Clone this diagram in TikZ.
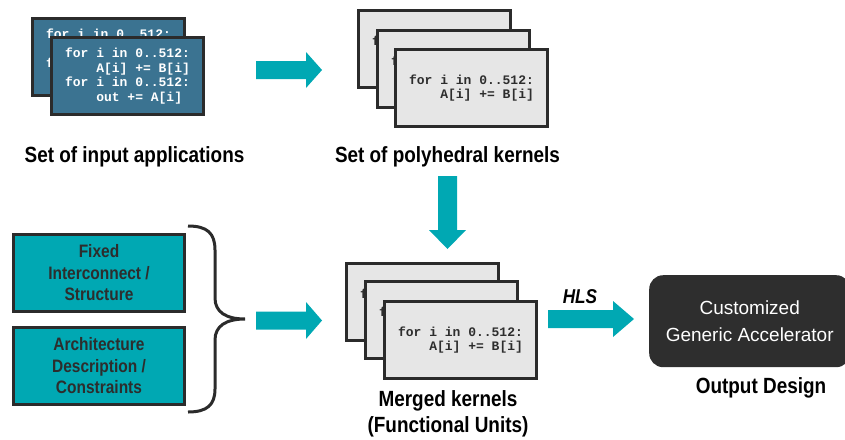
\documentclass[tikz,border=0pt]{standalone}
\usepackage{fontspec}
\setmainfont{Liberation Sans}
\newfontfamily\lblfont[FakeStretch=0.86]{Liberation Sans}
\newfontfamily\codefont{Liberation Mono}
\usetikzlibrary{calc}
\definecolor{edge}{HTML}{2B2B2B}
\definecolor{bluefill}{HTML}{3B7391}
\definecolor{grayfill}{HTML}{E6E6E6}
\definecolor{tealc}{HTML}{00A8B3}
\definecolor{darkboxc}{HTML}{2E2E2E}
\definecolor{txtgray}{HTML}{2D2D2D}
\newcommand\bluecode{for i in 0..512:\\\hphantom{for }A[i] += B[i]\\for i in 0..512:\\\hphantom{for }out += A[i]}
\newcommand\graycode{for i in 0..512:\\\hphantom{for }A[i] += B[i]}
\newcommand\blockarrow[5]{%
  \fill[tealc] let \p1=(#1), \p2=(#2), \n1={atan2(\y2-\y1,\x2-\x1)}, \n2={veclen(\x2-\x1,\y2-\y1)} in
   [shift={(\p1)}, rotate=\n1] (0,#5) -- ({\n2-#3},#5) -- ({\n2-#3},#4) -- (\n2,0) -- ({\n2-#3},-#4) -- ({\n2-#3},-#5) -- (0,-#5) -- cycle;}
\begin{document}
\begin{tikzpicture}[x=1pt,y=-1pt,
  codebox/.style={draw=edge, line width=3pt, minimum width=152pt, minimum height=77pt, inner sep=0pt, anchor=north west, align=left, font=\codefont\bfseries\fontsize{13}{14.5}\selectfont},
  bluebox/.style={codebox, fill=bluefill, text=white},
  graybox/.style={codebox, fill=grayfill, text=txtgray},
  tealbox/.style={draw=edge, line width=3pt, fill=tealc, minimum width=171pt, minimum height=77pt, inner sep=0pt, anchor=north west, align=center, text=txtgray, font=\lblfont\bfseries\fontsize{18}{21.5}\selectfont},
  lbl/.style={inner sep=0pt, font=\lblfont\bfseries\fontsize{22}{26}\selectfont},
  accbox/.style={fill=darkboxc, rounded corners=14pt, minimum width=201pt, minimum height=92pt, anchor=north west, inner sep=0pt, align=center, text=white, font=\fontsize{19}{26.6}\selectfont}
]
\useasboundingbox (0,0) rectangle (845,439);

% input applications
\node[bluebox] (ia1) at (31,17) {\bluecode};
\node[bluebox] (ia2) at (50,36) {\bluecode};
\node[lbl, anchor=base] (lia) at (134.5,162) {Set of input applications};

% polyhedral kernels
\node[graybox] (pk1) at (357,9) {\graycode};
\node[graybox] (pk2) at (376,29) {\graycode};
\node[graybox] (pk3) at (394,48) {\graycode};
\node[lbl, anchor=base] (lpk) at (447.5,162) {Set of polyhedral kernels};

% merged kernels
\node[graybox] (mk1) at (345,262) {\graycode};
\node[graybox] (mk2) at (364,280) {\graycode};
\node[graybox] (mk3) at (383,300) {\graycode};
\node[lbl, align=center, anchor=center] (lmk) at (448,414) {Merged kernels\\(Functional Units)};

% constraints
\node[tealbox] (fx) at (12,233) {Fixed\\Interconnect /\\Structure};
\node[tealbox] (ad) at (12,326) {Architecture\\Description /\\Constraints};
\coordinate (brtip) at (245,319);
\draw[edge, line width=3pt] (188,226) .. controls (207,226) and (215,233) .. (215,250) -- (215,298)
  .. controls (215,312) and (226,319) .. (brtip)
  .. controls (226,319) and (215,326) .. (215,340) -- (215,389)
  .. controls (215,405) and (207,412) .. (188,412);

% output
\node[accbox] (acc) at (649,275) {Customized\\Generic Accelerator};
\node[lbl, anchor=base] (lout) at (761,393) {Output Design};
\node[inner sep=0pt, anchor=base, font=\lblfont\bfseries\itshape\fontsize{20}{24}\selectfont] (hls) at (580,303.5) {HLS};

% block arrows
\coordinate (a1t) at (256,70);    \coordinate (a1h) at (322,70);
\coordinate (a2t) at (447.5,176); \coordinate (a2h) at (447.5,249);
\coordinate (a3t) at (256,320.5); \coordinate (a3h) at (322,320.5);
\coordinate (a4t) at (548,319);   \coordinate (a4h) at (634,319);
\blockarrow{a1t}{a1h}{16}{18}{9}
\blockarrow{a2t}{a2h}{19}{18.5}{9.5}
\blockarrow{a3t}{a3h}{16}{18.5}{9}
\blockarrow{a4t}{a4h}{21}{18}{9}
\end{tikzpicture}
\end{document}
